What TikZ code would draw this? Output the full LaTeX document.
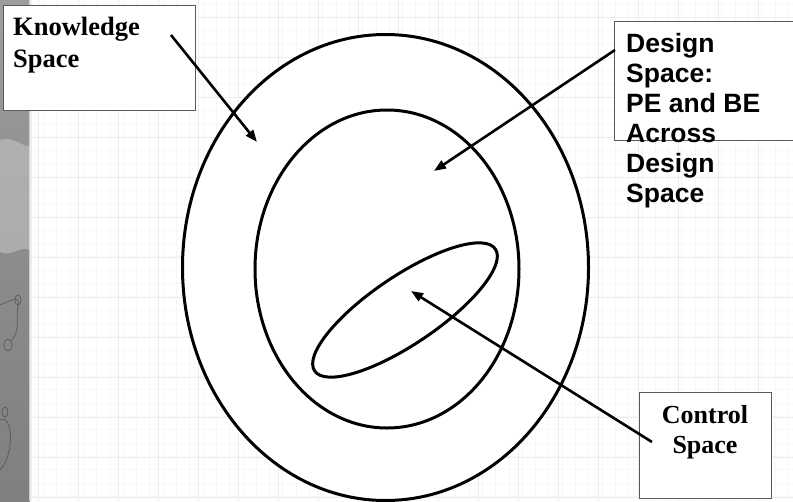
\documentclass[tikz,border=0pt]{standalone}
\usepackage{fontspec}
\setmainfont{Liberation Serif}
\setsansfont{Liberation Sans}
\usetikzlibrary{arrows.meta,shapes.geometric}
\tikzset{
  ring/.style={draw=black, line width=3pt},
  labelbox/.style={draw=black!65, fill=white, line width=0.8pt},
  pointer/.style={draw=black, line width=2.6pt, -{Triangle[length=12pt,width=9pt]}},
  serifline/.style={anchor=base west, inner sep=0pt, font=\fontsize{26.5}{32}\selectfont\bfseries},
  minorgrid/.style={draw=black!3, line width=0.6pt},
  majorgrid/.style={draw=black!7, line width=0.9pt},
}
\begin{document}
\begin{tikzpicture}[x=1pt,y=-1pt]
\useasboundingbox (0,0) rectangle (793,501);
\fill[white] (0,0) rectangle (793,501);
% faint grid background
\foreach \gx in {30,43.3,...,793} {\draw[minorgrid] (\gx,0) -- (\gx,501);}
\foreach \gy in {4,17.3,...,501} {\draw[minorgrid] (30,\gy) -- (793,\gy);}
\foreach \gx in {38,78,...,793} {\draw[majorgrid] (\gx,0) -- (\gx,501);}
\foreach \gy in {17,57,...,501} {\draw[majorgrid] (30,\gy) -- (793,\gy);}
% left decorative strip
\shade[top color=black!38, bottom color=black!50, middle color=black!45] (0,0) rectangle (30,501);
\fill[black!20, opacity=0.5] (0,140) .. controls (15,135) and (25,150) .. (30,145) -- (30,250) .. controls (20,245) and (10,258) .. (0,252) -- cycle;
\draw[black!65, line width=0.7pt] (0,305) .. controls (12,300) and (20,295) .. (18,305) .. controls (16,320) and (20,330) .. (12,340);
\draw[black!65, line width=0.7pt] (8,345) circle [x radius=4, y radius=6];
\draw[black!65, line width=0.7pt] (18,300) circle [x radius=3, y radius=5];
\draw[black!65, line width=0.7pt] (0,420) .. controls (8,415) and (12,430) .. (10,445) .. controls (8,460) and (4,465) .. (0,470);
\draw[black!65, line width=0.7pt] (5,412) circle [x radius=3, y radius=5];
\fill[black!8, opacity=0.7] (29,0) rectangle (32,501);
% rings
\draw[ring, fill=white] (385.5,267.5) ellipse [x radius=203, y radius=233];
\draw[ring] (387,269) ellipse [x radius=132, y radius=159];
\draw[ring, rotate around={34:(405,310)}] (405,310) ellipse [x radius=109, y radius=34];
% label boxes
\node[labelbox, minimum width=192, minimum height=105, anchor=north west, inner sep=0pt] (kbox) at (3,5) {};
\node[serifline] (ktext) at (13,35) {\parbox[t]{170pt}{\raggedright Knowledge\\Space}};
\node[labelbox, minimum width=190, minimum height=119, anchor=north west, inner sep=0pt] (dbox) at (614,21) {};
\node[anchor=base west, inner sep=0pt, font=\sffamily\fontsize{26.5}{30}\selectfont\bfseries] (dtext) at (626,52) {\parbox[t]{160pt}{\raggedright Design\\Space:\\PE and BE\\Across\\Design\\Space}};
\node[labelbox, minimum width=132, minimum height=106, anchor=north west, inner sep=0pt] (cbox) at (639,392) {};
\node[anchor=base, inner sep=0pt, font=\fontsize{26}{30}\selectfont\bfseries] (ctext) at (705,423) {\parbox[t]{130pt}{\centering Control\\Space}};
% pointers
\coordinate (ks) at (171,35);
\coordinate (kt) at (257,142);
\coordinate (ds) at (615,50);
\coordinate (dt) at (434,171);
\coordinate (cs) at (652,442);
\coordinate (ct) at (411,291);
\draw[pointer] (ks) -- (kt);
\draw[pointer] (ds) -- (dt);
\draw[pointer] (cs) -- (ct);
\end{tikzpicture}
\end{document}
